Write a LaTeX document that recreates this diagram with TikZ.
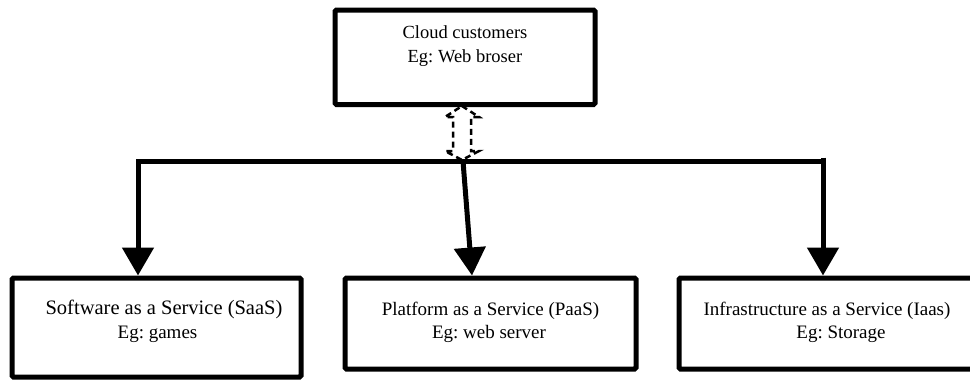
\documentclass[tikz,border=0pt]{standalone}
\usepackage{fontspec}
\setmainfont{Liberation Serif}
\usetikzlibrary{arrows.meta,calc}
\frenchspacing
\begin{document}
\begin{tikzpicture}[x=1pt,y=-1pt,
  box/.style={draw, line width=5pt, rectangle, rounded corners=1.5pt, inner sep=0pt},
  txt/.style={anchor=base, inner sep=0pt, font=\fontsize{19}{24}\selectfont},
  arr/.style={line width=5pt, -{Triangle[width=31pt,length=28pt]}},
  dlink/.style={line width=2.5pt, dash pattern=on 6pt off 4pt, line join=miter}]
\clip (0,0) rectangle (970,381);
% boxes
\node[box, minimum width=260pt, minimum height=94.5pt] (cust) at (465,57.25) {};
\node[box, minimum width=289pt, minimum height=99pt]   (saas) at (156.5,327.5) {};
\node[box, minimum width=291pt, minimum height=91pt]   (paas) at (490.5,323.5) {};
\node[box, minimum width=296pt, minimum height=91pt]   (iaas) at (827,323.5) {};
% texts
\node[txt, font=\fontsize{18.5}{24}\selectfont] (custA) at ($(cust.north)+(0,30.5)$) {Cloud customers};
\node[txt, font=\fontsize{18.5}{24}\selectfont] (custB) at ($(cust.north)+(0,54.5)$) {Eg: Web broser};
\node[txt, font=\fontsize{20.5}{24}\selectfont] (saasA) at ($(saas.north)+(7.5,38.5)$) {Software as a Service (SaaS)};
\node[txt, font=\fontsize{19}{24}\selectfont] (saasB) at ($(saas.north)+(1,62.5)$) {Eg: games};
\node[txt] (paasA) at ($(paas.north)+(0,40)$) {Platform as a Service (PaaS)};
\node[txt] (paasB) at ($(paas.north)+(-1.5,63)$) {Eg: web server};
\node[txt] (iaasA) at ($(iaas.north)+(0,40)$) {Infrastructure as a Service (Iaas)};
\node[txt] (iaasB) at ($(iaas.north)+(14,63)$) {Eg: Storage};
% bus coordinates
\coordinate (busL) at (138,161);
\coordinate (busM) at (463,161);
\coordinate (busR) at (823,161);
\coordinate (busRtop) at (823,157.5);
\coordinate (paasIn) at ($(paas.north)+(-18.5,0)$);
% connectors
\draw[arr] (busR) -- (busL) -- (busL |- saas.north);
\draw[arr] (busM) -- (paasIn);
\draw[arr] (busRtop) -- (busRtop |- iaas.north);
% dashed double block arrow between customer box and bus
\coordinate (dtop) at ($(cust.south)+(-3,-1)$);
\draw[dlink] (dtop) -- ++(17,11) -- ++(-8,0) -- ++(0,34) -- ++(8,0)
  -- ++(-17,9) -- ++(-17,-9) -- ++(8,0) -- ++(0,-34) -- ++(-8,0) -- cycle;
\end{tikzpicture}
\end{document}
